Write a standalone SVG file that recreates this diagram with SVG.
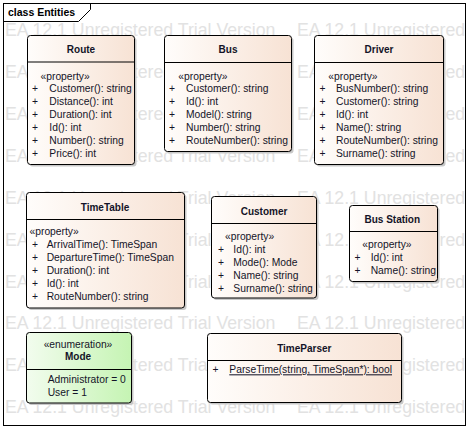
<svg xmlns="http://www.w3.org/2000/svg" width="468" height="429" viewBox="0 0 468 429">
<style>
.t{font-family:"Liberation Sans",Arial,sans-serif;font-size:10.3px;fill:#141428}
.h{font-family:"Liberation Sans",Arial,sans-serif;font-size:10px;font-weight:bold;fill:#141428;text-anchor:middle}
.wm{font-family:"Liberation Sans",Arial,sans-serif;font-size:17.7px;fill:#e2e2e2}
.box{fill:url(#peach);stroke:#000;stroke-width:1}
.enum{fill:url(#green);stroke:#000;stroke-width:1}
.sh{fill:#c8c8c8}
.div{stroke:#000;stroke-width:1}
</style>
<defs>
<linearGradient id="peach" x1="0" y1="0" x2="1" y2="0">
<stop offset="0" stop-color="#fffdfb"/>
<stop offset="1" stop-color="#f7e2d4"/>
</linearGradient>
<linearGradient id="green" x1="0" y1="0" x2="1" y2="0">
<stop offset="0" stop-color="#f2fcee"/>
<stop offset="1" stop-color="#c5f4b3"/>
</linearGradient>
<clipPath id="fr"><rect x="4" y="4" width="461" height="421"/></clipPath>
</defs>
<rect x="0" y="0" width="468" height="429" fill="#fff"/>
<g id="watermark" clip-path="url(#fr)">
<text class="wm" x="5" y="36">EA 12.1 Unregistered Trial Version</text><text class="wm" x="297" y="36">EA 12.1 Unregistered</text>
<text class="wm" x="5" y="78">EA 12.1 Unregistered Trial Version</text><text class="wm" x="297" y="78">EA 12.1 Unregistered</text>
<text class="wm" x="5" y="120">EA 12.1 Unregistered Trial Version</text><text class="wm" x="297" y="120">EA 12.1 Unregistered</text>
<text class="wm" x="5" y="162">EA 12.1 Unregistered Trial Version</text><text class="wm" x="297" y="162">EA 12.1 Unregistered</text>
<text class="wm" x="5" y="204">EA 12.1 Unregistered Trial Version</text><text class="wm" x="297" y="204">EA 12.1 Unregistered</text>
<text class="wm" x="5" y="245.5">EA 12.1 Unregistered Trial Version</text><text class="wm" x="297" y="245.5">EA 12.1 Unregistered</text>
<text class="wm" x="5" y="287.5">EA 12.1 Unregistered Trial Version</text><text class="wm" x="297" y="287.5">EA 12.1 Unregistered</text>
<text class="wm" x="5" y="329">EA 12.1 Unregistered Trial Version</text><text class="wm" x="297" y="329">EA 12.1 Unregistered</text>
<text class="wm" x="5" y="371">EA 12.1 Unregistered Trial Version</text><text class="wm" x="297" y="371">EA 12.1 Unregistered</text>
<text class="wm" x="5" y="413">EA 12.1 Unregistered Trial Version</text><text class="wm" x="297" y="413">EA 12.1 Unregistered</text>
</g>
<g id="frame">
<rect x="3.5" y="3.5" width="462" height="422" fill="none" stroke="#000"/>
<polyline points="3.5,21.5 78.5,21.5 90.5,9.5 90.5,3.5" fill="none" stroke="#000"/>
<text x="8" y="16" style="font-family:'Liberation Sans',Arial,sans-serif;font-size:10.5px;font-weight:bold;fill:#000">class Entities</text>
</g>
<g id="connectors"></g>
<g id="Route">
<rect class="sh" x="29.5" y="37.5" width="107" height="129" rx="3"/>
<rect class="box" x="27.5" y="35.5" width="107" height="129" rx="3"/>
<line class="div" x1="27.5" y1="62" x2="134.5" y2="62"/>
<text class="h" x="81" y="53">Route</text>
<text class="t" x="40.5" y="80">«property»</text>
<text class="t" x="32" y="92.3">+</text><text class="t" x="49.3" y="92.3">Customer(): string</text>
<text class="t" x="32" y="105.3">+</text><text class="t" x="49.3" y="105.3">Distance(): int</text>
<text class="t" x="32" y="118.3">+</text><text class="t" x="49.3" y="118.3">Duration(): int</text>
<text class="t" x="32" y="131.3">+</text><text class="t" x="49.3" y="131.3">Id(): int</text>
<text class="t" x="32" y="144.3">+</text><text class="t" x="49.3" y="144.3">Number(): string</text>
<text class="t" x="32" y="157.3">+</text><text class="t" x="49.3" y="157.3">Price(): int</text>
</g>
<g id="Bus">
<rect class="sh" x="166.5" y="37.5" width="127" height="116" rx="3"/>
<rect class="box" x="164.5" y="35.5" width="127" height="116" rx="3"/>
<line class="div" x1="164.5" y1="62.5" x2="291.5" y2="62.5"/>
<text class="h" x="228" y="53.3">Bus</text>
<text class="t" x="178.3" y="80">«property»</text>
<text class="t" x="169" y="92.3">+</text><text class="t" x="186" y="92.3">Customer(): string</text>
<text class="t" x="169" y="105.3">+</text><text class="t" x="186" y="105.3">Id(): int</text>
<text class="t" x="169" y="118.3">+</text><text class="t" x="186" y="118.3">Model(): string</text>
<text class="t" x="169" y="131.3">+</text><text class="t" x="186" y="131.3">Number(): string</text>
<text class="t" x="169" y="144.3">+</text><text class="t" x="186" y="144.3">RouteNumber(): string</text>
</g>
<g id="Driver">
<rect class="sh" x="316.5" y="37.5" width="129" height="129" rx="3"/>
<rect class="box" x="314.5" y="35.5" width="129" height="129" rx="3"/>
<line class="div" x1="314.5" y1="62.5" x2="443.5" y2="62.5"/>
<text class="h" x="379" y="53.3">Driver</text>
<text class="t" x="328.3" y="80">«property»</text>
<text class="t" x="319.5" y="92.3">+</text><text class="t" x="336" y="92.3">BusNumber(): string</text>
<text class="t" x="319.5" y="105.3">+</text><text class="t" x="336" y="105.3">Customer(): string</text>
<text class="t" x="319.5" y="118.3">+</text><text class="t" x="336" y="118.3">Id(): int</text>
<text class="t" x="319.5" y="131.3">+</text><text class="t" x="336" y="131.3">Name(): string</text>
<text class="t" x="319.5" y="144.3">+</text><text class="t" x="336" y="144.3">RouteNumber(): string</text>
<text class="t" x="319.5" y="157.3">+</text><text class="t" x="336" y="157.3">Surname(): string</text>
</g>
<g id="TimeTable">
<rect class="sh" x="28.5" y="194.5" width="158" height="115.5" rx="3"/>
<rect class="box" x="26.5" y="192.5" width="158" height="115.5" rx="3"/>
<line class="div" x1="26.5" y1="219.5" x2="184.5" y2="219.5"/>
<text class="h" x="105" y="211">TimeTable</text>
<text class="t" x="29.5" y="235">«property»</text>
<text class="t" x="32" y="247.7">+</text><text class="t" x="46.7" y="247.7">ArrivalTime(): TimeSpan</text>
<text class="t" x="32" y="260.7">+</text><text class="t" x="46.7" y="260.7">DepartureTime(): TimeSpan</text>
<text class="t" x="32" y="273.7">+</text><text class="t" x="46.7" y="273.7">Duration(): int</text>
<text class="t" x="32" y="286.7">+</text><text class="t" x="46.7" y="286.7">Id(): int</text>
<text class="t" x="32" y="299.7">+</text><text class="t" x="46.7" y="299.7">RouteNumber(): string</text>
</g>
<g id="Customer">
<rect class="sh" x="213.5" y="198.5" width="105" height="101.5" rx="3"/>
<rect class="box" x="211.5" y="196.5" width="105" height="101.5" rx="3"/>
<line class="div" x1="211.5" y1="223.5" x2="316.5" y2="223.5"/>
<text class="h" x="264" y="215">Customer</text>
<text class="t" x="225" y="240">«property»</text>
<text class="t" x="218" y="252.7">+</text><text class="t" x="233.3" y="252.7">Id(): int</text>
<text class="t" x="218" y="265.7">+</text><text class="t" x="233.3" y="265.7">Mode(): Mode</text>
<text class="t" x="218" y="278.7">+</text><text class="t" x="233.3" y="278.7">Name(): string</text>
<text class="t" x="218" y="291.7">+</text><text class="t" x="233.3" y="291.7">Surname(): string</text>
</g>
<g id="BusStation">
<rect class="sh" x="351.5" y="207.5" width="88" height="76" rx="3"/>
<rect class="box" x="349.5" y="205.5" width="88" height="76" rx="3"/>
<line class="div" x1="349.5" y1="231.5" x2="437.5" y2="231.5"/>
<text class="h" x="392.3" y="223.3">Bus Station</text>
<text class="t" x="362.3" y="248.3">«property»</text>
<text class="t" x="354.5" y="261">+</text><text class="t" x="370.7" y="261">Id(): int</text>
<text class="t" x="354.5" y="274">+</text><text class="t" x="370.7" y="274">Name(): string</text>
</g>
<g id="Mode">
<rect class="sh" x="28.5" y="334.5" width="105" height="70.5" rx="3"/>
<rect class="enum" x="26.5" y="332.5" width="105" height="70.5" rx="3"/>
<line class="div" x1="26.5" y1="369.5" x2="131.5" y2="369.5"/>
<text class="t" x="78" y="347.7" text-anchor="middle">«enumeration»</text>
<text class="h" x="78" y="360">Mode</text>
<text class="t" x="47.7" y="383.3">Administrator = 0</text>
<text class="t" x="47.7" y="395.5">User = 1</text>
</g>
<g id="TimeParser">
<rect class="sh" x="209.5" y="335.5" width="194" height="69" rx="3"/>
<rect class="box" x="207.5" y="333.5" width="194" height="69" rx="3"/>
<line class="div" x1="207.5" y1="360.5" x2="401.5" y2="360.5"/>
<text class="h" x="304.3" y="351.7">TimeParser</text>
<text class="t" x="212.5" y="373.3">+</text>
<text class="t" x="229.3" y="373.3" text-decoration="underline">ParseTime(string, TimeSpan*): bool</text>
</g>
</svg>
